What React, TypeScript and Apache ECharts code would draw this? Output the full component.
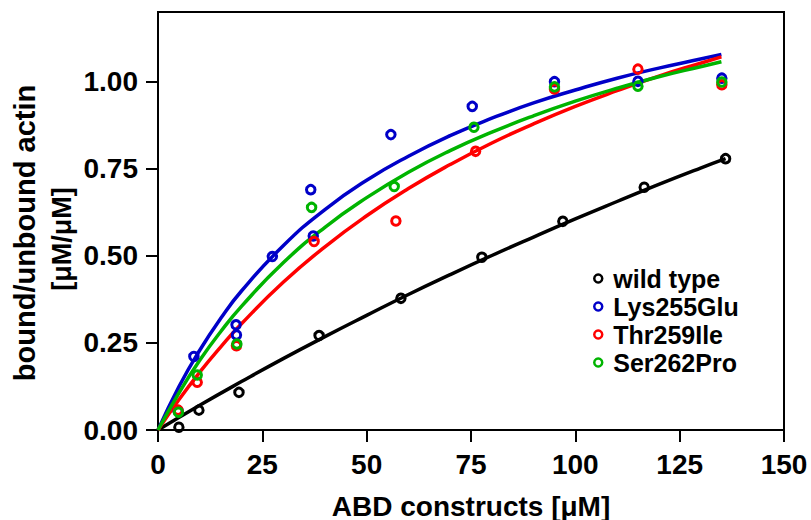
import React, { useEffect, useRef } from "react";
import * as echarts from "echarts";

const FONT = "'Liberation Sans', Arial, Helvetica, sans-serif";

const seriesNames = ["wild type", "Lys255Glu", "Thr259Ile", "Ser262Pro"];
const seriesColors = ["#000000", "#0000c8", "#ff0000", "#00b400"];

// measured points
const wtX = [5.0, 9.8, 19.4, 38.6, 58.2, 77.6, 97.0, 116.5, 136.0];
const wtY = [0.008, 0.057, 0.108, 0.271, 0.378, 0.496, 0.599, 0.697, 0.779];

const lysX = [4.8, 8.6, 18.7, 18.8, 27.4, 36.6, 37.2, 55.8, 75.3, 95.0, 115.0, 135.1];
const lysY = [0.055, 0.211, 0.302, 0.273, 0.498, 0.69, 0.557, 0.848, 0.929, 1.0, 1.001, 1.01];

const thrX = [4.8, 9.4, 18.8, 37.4, 57.0, 76.1, 95.0, 115.0, 135.1];
const thrY = [0.057, 0.137, 0.242, 0.541, 0.6, 0.8, 0.979, 1.036, 0.991];

const serX = [4.9, 9.4, 18.9, 36.8, 56.6, 75.7, 95.0, 115.0, 135.1];
const serY = [0.051, 0.158, 0.247, 0.639, 0.699, 0.869, 0.985, 0.987, 0.999];

// fitted curves
const fitX = [0, 5, 10, 15, 20, 30, 40, 50, 60, 70, 80, 90, 100, 110, 120, 130, 135];
const lysFit = [0, 0.124, 0.229, 0.32, 0.399, 0.529, 0.633, 0.717, 0.786, 0.845, 0.895, 0.939, 0.976, 1.01, 1.039, 1.065, 1.078];
const thrFit = [0, 0.087, 0.166, 0.238, 0.305, 0.424, 0.526, 0.615, 0.693, 0.762, 0.824, 0.879, 0.929, 0.974, 1.016, 1.053, 1.071];
const serFit = [0, 0.106, 0.2, 0.282, 0.355, 0.48, 0.582, 0.667, 0.74, 0.802, 0.855, 0.902, 0.944, 0.981, 1.014, 1.043, 1.057];
const wtFitX = [0, 10, 20, 30, 40, 50, 60, 70, 80, 90, 100, 110, 120, 130, 136];
const wtFit = [0, 0.071, 0.139, 0.205, 0.268, 0.329, 0.389, 0.446, 0.501, 0.554, 0.606, 0.656, 0.705, 0.752, 0.779];

const xTicks = [0, 25, 50, 75, 100, 125, 150];
const yTicks = [0, 0.25, 0.5, 0.75, 1.0];

const xTitle = "ABD constructs [μM]";
const yTitle1 = "bound/unbound actin";
const yTitle2 = "[μM/μM]";

function zip(xs: number[], ys: number[]) {
  return xs.map((x, i) => [x, ys[i]]);
}

export default function App() {
  const ref = useRef<HTMLDivElement>(null);
  useEffect(() => {
    if (!ref.current) return;
    const chart = echarts.init(ref.current, null, { renderer: "svg" });
    const pts = [zip(wtX, wtY), zip(lysX, lysY), zip(thrX, thrY), zip(serX, serY)];
    const fits = [zip(wtFitX, wtFit), zip(fitX, lysFit), zip(fitX, thrFit), zip(fitX, serFit)];
    const lineSeries = fits.map((d, i) => ({
      name: seriesNames[i] + " fit",
      type: "line",
      data: d,
      smooth: true,
      showSymbol: false,
      symbol: "none",
      lineStyle: { color: seriesColors[i], width: 3.5, opacity: 1 },
      z: 2 + i,
      silent: true,
    }));
    const scatterSeries = pts.map((d, i) => ({
      name: seriesNames[i],
      type: "scatter",
      data: d,
      symbol: "circle",
      symbolSize: 8.5,
      itemStyle: {
        color: "rgba(255,255,255,0)",
        borderColor: seriesColors[i],
        borderWidth: 3,
        opacity: 1,
      },
      z: 10 + i,
    }));
    chart.setOption({
      animation: false,
      backgroundColor: "#ffffff",
      grid: {
        left: 158,
        right: 27,
        top: 12,
        bottom: 90,
        show: true,
        borderColor: "#000",
        borderWidth: 2,
        containLabel: false,
        outerBoundsMode: "none",
      },
      legend: {
        orient: "vertical",
        left: 588,
        top: 261,
        itemWidth: 20,
        itemHeight: 8,
        itemGap: 3,
        textStyle: { fontFamily: FONT, fontSize: 25, fontWeight: "bold", color: "#000" },
        data: seriesNames.map((n, i) => ({
          name: n,
          icon: "circle",
          itemStyle: {
            color: "rgba(255,255,255,0)",
            borderColor: seriesColors[i],
            borderWidth: 2.5,
            opacity: 1,
          },
        })),
      },
      xAxis: {
        type: "value",
        min: 0,
        max: 150,
        interval: 25,
        splitLine: { show: false },
        axisLine: { show: true, onZero: false, lineStyle: { color: "#000", width: 2 } },
        axisTick: { show: true, inside: false, length: 12, lineStyle: { color: "#000", width: 2 }, customValues: xTicks },
        axisLabel: {
          fontFamily: FONT,
          fontSize: 28,
          fontWeight: "bold",
          color: "#000",
          margin: 20,
          customValues: xTicks,
        },
      },
      yAxis: {
        type: "value",
        min: 0,
        max: 1.2,
        interval: 0.25,
        splitLine: { show: false },
        axisLine: { show: true, onZero: false, lineStyle: { color: "#000", width: 2 } },
        axisTick: { show: true, inside: false, length: 12, lineStyle: { color: "#000", width: 2 }, customValues: yTicks },
        axisLabel: {
          fontFamily: FONT,
          fontSize: 28,
          fontWeight: "bold",
          color: "#000",
          margin: 20,
          customValues: yTicks,
          formatter: (v: number) => v.toFixed(2),
        },
      },
      graphic: [
        {
          type: "text",
          x: 471,
          y: 506,
          style: {
            text: xTitle,
            font: `bold 28px ${FONT}`,
            fill: "#000",
            textAlign: "center",
            textVerticalAlign: "middle",
          },
        },
        {
          type: "text",
          x: 25,
          y: 233,
          rotation: Math.PI / 2,
          style: {
            text: yTitle1,
            font: `bold 29px ${FONT}`,
            fill: "#000",
            textAlign: "center",
            textVerticalAlign: "middle",
          },
        },
        {
          type: "text",
          x: 62,
          y: 239,
          rotation: Math.PI / 2,
          style: {
            text: yTitle2,
            font: `bold 27px ${FONT}`,
            fill: "#000",
            textAlign: "center",
            textVerticalAlign: "middle",
          },
        },
      ],
      series: [...lineSeries, ...scatterSeries],
    });
    return () => chart.dispose();
  }, []);
  return (
    <div
      ref={ref}
      style={{ position: "fixed", left: 0, top: 0, width: 811, height: 520, background: "#fff" }}
    />
  );
}
